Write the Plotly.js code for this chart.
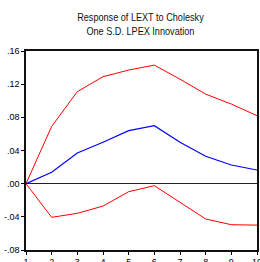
<!DOCTYPE html>
<html><head><meta charset="utf-8">
<script src="https://cdn.plot.ly/plotly-3.0.1.min.js"></script>
<style>html,body{margin:0;padding:0;background:#fff;}#c{width:260px;height:262px;}</style>
</head><body><div id="c"></div>
<script>
const periods = [1,2,3,4,5,6,7,8,9,10];
const response = [0, 0.0137, 0.037, 0.050, 0.064, 0.070, 0.050, 0.033, 0.0225, 0.0165];
const upperBand = [0, 0.069, 0.111, 0.129, 0.137, 0.143, 0.126, 0.108, 0.096, 0.082];
const lowerBand = [0, -0.0406, -0.0358, -0.027, -0.0097, -0.0024, -0.0225, -0.0426, -0.0495, -0.050];
const yTickVals = [-0.08, -0.04, 0, 0.04, 0.08, 0.12, 0.16];
const yTickText = ['-.08', '-.04', '.00', '.04', '.08', '.12', '.16'];
const xTickVals = [1,2,3,4,5,6,7,8,9,10];
const titleText = 'Response of LEXT to Cholesky<br>One S.D. LPEX Innovation';

const fnt = 'Liberation Sans, Arial, sans-serif';
const traces = [
  {x: periods, y: upperBand, mode: 'lines', line: {color: '#ff0000', width: 1}, hoverinfo: 'skip'},
  {x: periods, y: lowerBand, mode: 'lines', line: {color: '#ff0000', width: 1}, hoverinfo: 'skip'},
  {x: periods, y: response, mode: 'lines', line: {color: '#0000ff', width: 1.2}, hoverinfo: 'skip'}
];
const layout = {
  width: 260, height: 262,
  margin: {l: 26, r: 3, t: 51, b: 12, pad: 0},
  paper_bgcolor: '#fff', plot_bgcolor: '#fff',
  showlegend: false,
  font: {family: fnt, size: 9, color: '#000'},
  title: {text: titleText, font: {family: fnt, size: 11, color: '#111'}, x: 0.54, xanchor: 'center', y: 0.92, yanchor: 'top'},
  xaxis: {range: [1, 10], tickvals: xTickVals, ticks: 'outside', ticklen: 3, tickcolor: '#000',
    ticklabeloverflow: 'allow',
    showgrid: false, zeroline: false, showline: true, linecolor: '#111', linewidth: 1.6, mirror: true,
    tickfont: {family: fnt, size: 9}, fixedrange: true},
  yaxis: {range: [-0.08, 0.16], tickvals: yTickVals, ticktext: yTickText, ticks: 'outside', ticklen: 3, tickcolor: '#000',
    showgrid: false, zeroline: true, zerolinecolor: '#222', zerolinewidth: 1.2, showline: true, linecolor: '#111', linewidth: 1.6, mirror: true,
    tickfont: {family: fnt, size: 9}, fixedrange: true}
};
Plotly.newPlot('c', traces, layout, {staticPlot: true, displayModeBar: false}).then(function(){
  const t = document.querySelector('.gtitle');
  if (t) {
    const bb = t.getBBox();
    const cx = bb.x + bb.width / 2;
    const prev = t.getAttribute('transform') || '';
    t.setAttribute('transform', prev + ' translate(' + cx + ',0) scale(0.83,1) translate(' + (-cx) + ',0)');
  }
});
</script>
</body></html>
